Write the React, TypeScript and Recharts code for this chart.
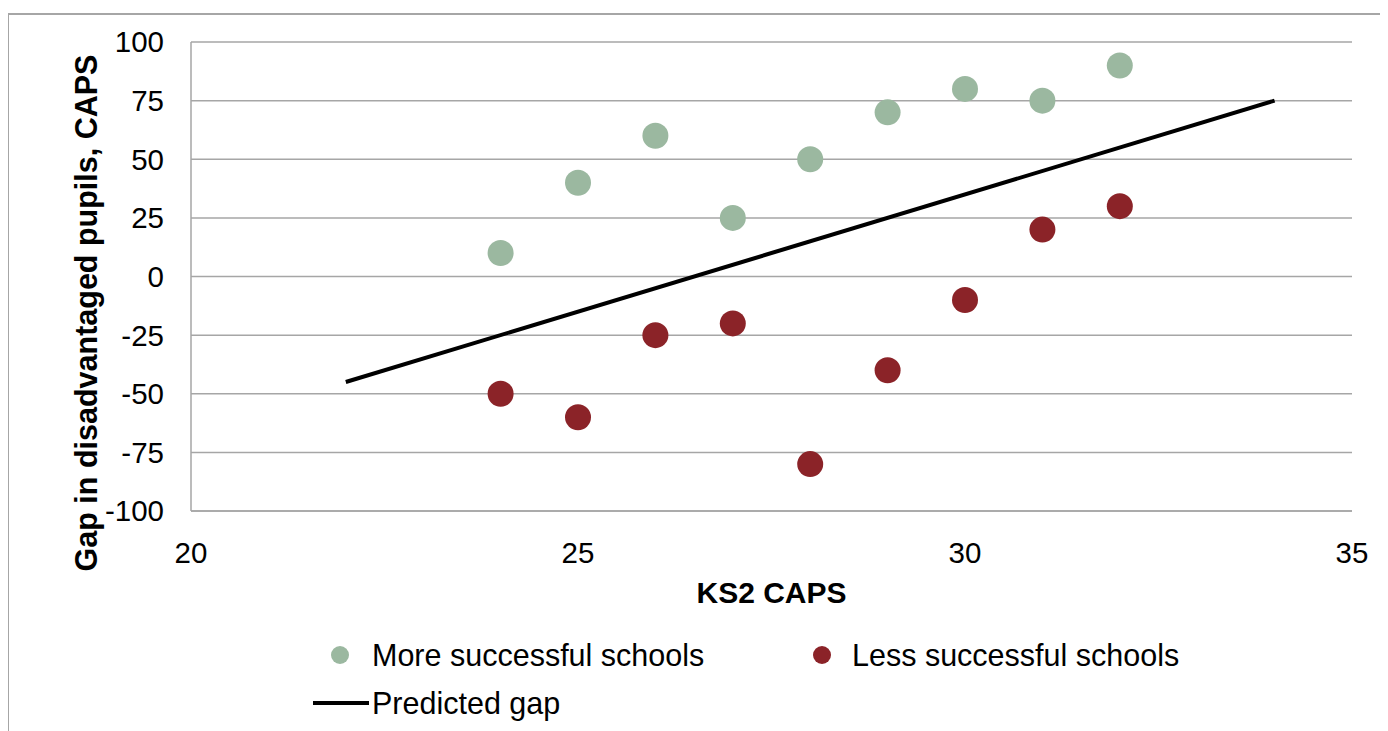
import React from 'react';
import { ScatterChart, Scatter, XAxis, YAxis, CartesianGrid, Legend } from 'recharts';

const xTicks = [20, 25, 30, 35];
const yTicks = [-100, -75, -50, -25, 0, 25, 50, 75, 100];

const ks2Caps = [24, 25, 26, 27, 28, 29, 30, 31, 32];
const moreSuccessfulGap = [10, 40, 60, 25, 50, 70, 80, 75, 90];
const lessSuccessfulGap = [-50, -60, -25, -20, -80, -40, -10, 20, 30];
const predictedX = [22, 34];
const predictedGap = [-45, 75];

const moreData = ks2Caps.map((x, i) => ({ x, y: moreSuccessfulGap[i] }));
const lessData = ks2Caps.map((x, i) => ({ x, y: lessSuccessfulGap[i] }));
const lineData = predictedX.map((x, i) => ({ x, y: predictedGap[i] }));

const GREEN = '#9bb8a0';
const RED = '#8b2328';
const GRID = '#a6a6a6';
const FONT = 'Arial, "Liberation Sans", sans-serif';

const dot = (color: string) => (props: any) => (
  <circle cx={props.cx} cy={props.cy} r={13} fill={color} />
);

const LegendContent = () => (
  <div style={{ position: 'absolute', left: 0, top: 0, width: 1380, height: 723 }}>
    <svg style={{ position: 'absolute', left: 0, top: 0 }} width={1380} height={723}>
      <circle cx={332} cy={647} r={9} fill={GREEN} />
      <circle cx={814} cy={647} r={9} fill={RED} />
      <line x1={305} y1={695} x2={361} y2={695} stroke="#000" strokeWidth={4} />
      <text x={364} y={647} dy="0.36em" fontSize={30.5} fontFamily={FONT}>More successful schools</text>
      <text x={844} y={647} dy="0.36em" fontSize={30.5} fontFamily={FONT}>Less successful schools</text>
      <text x={364} y={695} dy="0.36em" fontSize={30.5} fontFamily={FONT}>Predicted gap</text>
    </svg>
  </div>
);

export default function App() {
  return (
    <div style={{ position: 'relative', width: 1380, height: 723, overflow: 'hidden', background: '#fff' }}>
      <div style={{ position: 'absolute', left: -1, top: 5, width: 1400, height: 800, border: '2px solid #a6a6a6', boxSizing: 'border-box' }} />
      <div style={{ position: 'absolute', left: 0, top: 0 }}>
        <ScatterChart width={1380} height={723} margin={{ top: 34, right: 36, bottom: 160, left: 83 }}>
          <CartesianGrid horizontal vertical={false} stroke={GRID} strokeWidth={1.5} />
          <XAxis
            type="number"
            dataKey="x"
            domain={[20, 35]}
            ticks={xTicks}
            height={60}
            tickSize={0}
            tickMargin={31}
            axisLine={{ stroke: GRID, strokeWidth: 1.5 }}
            tick={{ fill: '#000', fontSize: 29.5, fontFamily: FONT }}
            label={{
              content: (p: any) => {
                const vb = p.viewBox || {};
                return (
                  <text x={vb.x + vb.width / 2} y={584} dy="0.36em" textAnchor="middle" fontSize={30} fontWeight="bold" fontFamily={FONT} fill="#000">
                    KS2 CAPS
                  </text>
                );
              },
            }}
          />
          <YAxis
            type="number"
            dataKey="y"
            domain={[-100, 100]}
            ticks={yTicks}
            width={100}
            tickSize={0}
            tickMargin={27}
            axisLine={{ stroke: GRID, strokeWidth: 1.5 }}
            tick={{ fill: '#000', fontSize: 29.5, fontFamily: FONT }}
            label={{
              content: () => (
                <text x={78} y={305} dy="0.36em" textAnchor="middle" fontSize={30.5} fontWeight="bold" fontFamily={FONT} fill="#000" transform="rotate(-90 78 305)">
                  Gap in disadvantaged pupils, CAPS
                </text>
              ),
            }}
          />
          <Legend layout="horizontal" verticalAlign="middle" align="center" content={LegendContent} wrapperStyle={{ left: 0, top: 0, width: 1380, height: 723 }} />
          <Scatter name="More successful schools" data={moreData} fill={GREEN} shape={dot(GREEN)} isAnimationActive={false} />
          <Scatter name="Less successful schools" data={lessData} fill={RED} shape={dot(RED)} isAnimationActive={false} />
          <Scatter name="Predicted gap" data={lineData} fill="#000" line={{ stroke: '#000', strokeWidth: 4 }} shape={() => <g />} isAnimationActive={false} />
        </ScatterChart>
      </div>
    </div>
  );
}
